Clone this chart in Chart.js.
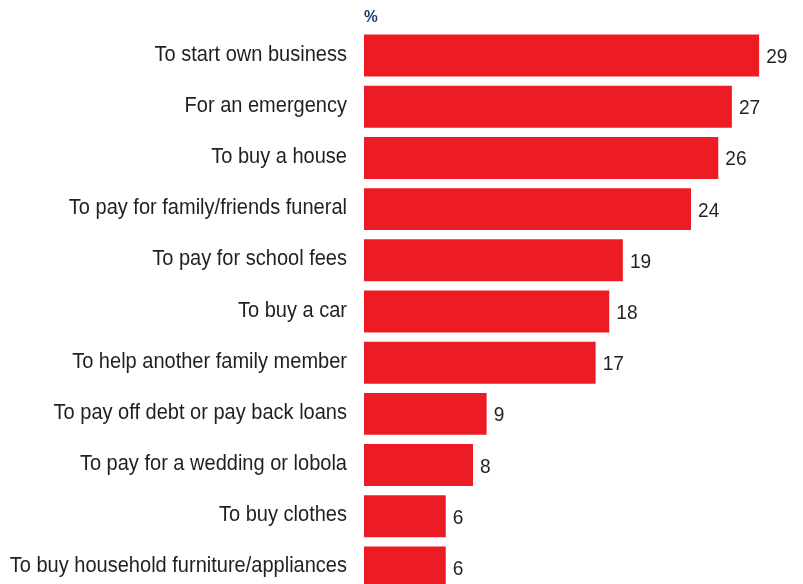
<!DOCTYPE html>
<html lang="en">
<head>
    <meta charset="UTF-8">
    <title>Reasons for saving</title>
    <script src="https://cdn.jsdelivr.net/npm/chart.js"></script>
    <style>
        html, body {
            margin: 0;
            padding: 0;
            background: #fff;
            overflow: hidden;
        }
        #wrap {
            width: 803px;
            height: 593px;
        }
    </style>
</head>
<body>
    <div id="wrap">
        <canvas id="grafico"></canvas>
    </div>

    <script>
        const categorias = [
            'To start own business',
            'For an emergency',
            'To buy a house',
            'To pay for family/friends funeral',
            'To pay for school fees',
            'To buy a car',
            'To help another family member',
            'To pay off debt or pay back loans',
            'To pay for a wedding or lobola',
            'To buy clothes',
            'To buy household furniture/appliances'
        ];
        const valores = [29, 27, 26, 24, 19, 18, 17, 9, 8, 6, 6];

        const fonte = '"Liberation Sans", Arial, sans-serif';
        const estreito = 0.91; // condensed look: squeeze text horizontally

        function textoEstreito(ctx, texto, x, y) {
            ctx.save();
            ctx.translate(x, y);
            ctx.scale(estreito, 1);
            ctx.fillText(texto, 0, 0);
            ctx.restore();
        }

        // category names, values at bar ends and the "%" unit
        const rotulos = {
            id: 'rotulos',
            afterDatasetsDraw(chart) {
                const ctx = chart.ctx;
                const eixoY = chart.scales.y;
                const meta = chart.getDatasetMeta(0);
                ctx.save();
                ctx.fillStyle = '#231f20';
                ctx.textBaseline = 'alphabetic';

                ctx.font = '22px ' + fonte;
                ctx.textAlign = 'right';
                categorias.forEach((nome, i) => {
                    textoEstreito(ctx, nome, chart.chartArea.left - 17, eixoY.getPixelForTick(i) + 5);
                });

                ctx.font = '21px ' + fonte;
                ctx.textAlign = 'left';
                meta.data.forEach((bar, i) => {
                    textoEstreito(ctx, String(valores[i]), bar.x + 7, bar.y + 7.5);
                });

                ctx.font = 'bold 17px ' + fonte;
                ctx.fillStyle = '#1f3c74';
                textoEstreito(ctx, '%', chart.chartArea.left, 21.5);
                ctx.restore();
            }
        };

        const graficoCtx = document.getElementById('grafico').getContext('2d');
        new Chart(graficoCtx, {
            type: 'bar',
            data: {
                labels: categorias,
                datasets: [{
                    data: valores,
                    backgroundColor: '#ed1c24',
                    borderWidth: 0,
                    barPercentage: 0.82,
                    categoryPercentage: 1.0
                }]
            },
            options: {
                indexAxis: 'y',
                responsive: true,
                maintainAspectRatio: false,
                animation: false,
                layout: {
                    padding: { top: 30, right: 3, bottom: 0, left: 0 }
                },
                plugins: {
                    legend: { display: false },
                    tooltip: { enabled: false }
                },
                scales: {
                    x: {
                        min: 0,
                        max: 32,
                        display: false
                    },
                    y: {
                        grid: { display: false },
                        border: { display: false },
                        ticks: { display: false },
                        afterFit(scale) {
                            scale.width = 364;
                            scale.paddingTop = 0;
                            scale.paddingBottom = 0;
                        }
                    }
                }
            },
            plugins: [rotulos]
        });
    </script>
</body>
</html>
